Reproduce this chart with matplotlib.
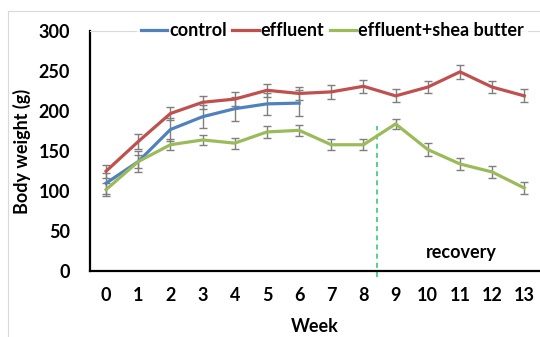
import matplotlib
matplotlib.use("Agg")
import matplotlib.pyplot as plt
from matplotlib.patches import Rectangle
from matplotlib.lines import Line2D

plt.rcParams['font.family'] = ['Lato', 'DejaVu Sans']
plt.rcParams['font.weight'] = 'bold'

weeks = list(range(14))
week_labels = [str(w) for w in weeks]

control_weeks = list(range(7))
control = [110, 137, 177, 193, 203, 209, 210]
control_err = [13, 13, 14, 14, 15, 14, 16]

effluent = [125, 162, 197, 211, 215, 226, 222, 224, 231, 219, 230, 249, 230, 219]
effluent_err = [8, 9, 8, 8, 9, 8, 8, 9, 8, 8, 8, 9, 8, 8]

shea = [102, 137, 158, 164, 160, 174, 176, 158, 158, 184, 152, 134, 124, 104]
shea_err = [8, 8, 7, 6, 7, 7, 7, 7, 7, 6, 8, 7, 7, 7]

series_names = ["control", "effluent", "effluent+shea butter"]
colors = ["#4F81BD", "#C0504D", "#9BBB59"]

recovery_x = 8.42
recovery_top = 181

FS = 13

fig = plt.figure(figsize=(5.4, 3.37), dpi=100)
ax = fig.add_axes([90/540, (337-271.3)/337, (540.4-90)/540, (271.3-31)/337])

err_kw = dict(ecolor="#7f7f7f", elinewidth=1.0, capsize=3, capthick=1.0)
ax.errorbar(control_weeks, control, yerr=control_err, color=colors[0], lw=2.3, **err_kw, zorder=3)
ax.errorbar(weeks, effluent, yerr=effluent_err, color=colors[1], lw=2.3, **err_kw, zorder=3)
ax.errorbar(weeks, shea, yerr=shea_err, color=colors[2], lw=2.3, **err_kw, zorder=3)

ax.plot([recovery_x, recovery_x], [-7, recovery_top], color="#33CC77", lw=1.2,
        linestyle=(0, (3, 2.5)), clip_on=False, zorder=2)
ax.text(11.03, 24, "recovery", ha="center", va="center", fontsize=FS, fontweight="bold")

ax.set_xlim(-0.5, 13.5)
ax.set_ylim(0, 300)
ax.set_xticks(weeks)
ax.set_xticklabels(week_labels)
ax.set_yticks([0, 50, 100, 150, 200, 250, 300])
ax.tick_params(axis="both", length=0, labelsize=FS)
ax.tick_params(axis="y", pad=14.4)
ax.tick_params(axis="x", pad=11.5)
for lab in ax.get_xticklabels() + ax.get_yticklabels():
    lab.set_fontweight("bold")

ax.spines["left"].set_color("black")
ax.spines["left"].set_linewidth(1.6)
ax.spines["bottom"].set_color("black")
ax.spines["bottom"].set_linewidth(1.6)
ax.spines["top"].set_color("#d9d9d9")
ax.spines["top"].set_linewidth(0.8)
ax.spines["right"].set_visible(False)

fig.text(22/540, (337-151)/337, "Body weight (g)", rotation=90, ha="center", va="center",
         fontsize=FS, fontweight="bold")
fig.text(315/540, (337-327)/337, "Week", ha="center", va="center",
         fontsize=FS, fontweight="bold")

handles = [Line2D([], [], color=c, lw=2.3) for c in colors]
leg = fig.legend(handles, series_names, loc="center", bbox_to_anchor=(332.5/540, (337-31)/337),
                 ncol=3, frameon=True, fontsize=13, handlelength=1.45, handletextpad=0.12,
                 columnspacing=0.3, borderpad=0.2, borderaxespad=0)
leg.get_frame().set_facecolor("white")
leg.get_frame().set_edgecolor("none")
for t in leg.get_texts():
    t.set_fontweight("bold")

fig.add_artist(Rectangle((8/540, -0.1), 2, (337-11)/337 + 0.1, transform=fig.transFigure,
                         fill=False, edgecolor="#d9d9d9", lw=0.8))

fig.savefig("out.png", dpi=100)
